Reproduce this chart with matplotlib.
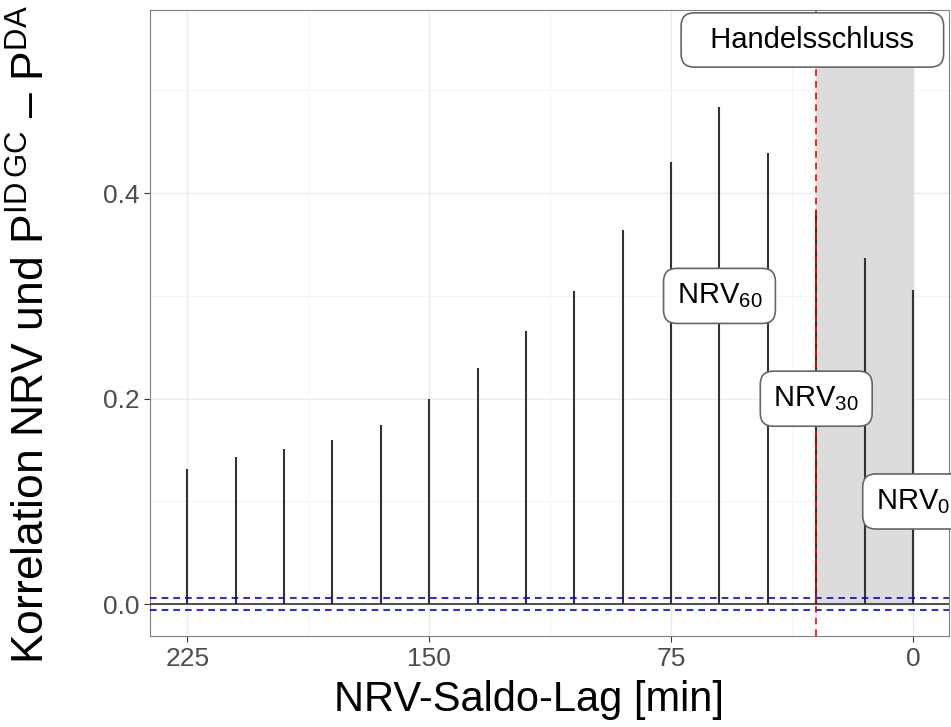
import matplotlib.pyplot as plt
import numpy as np

plt.rcParams['font.family'] = ['Liberation Sans', 'DejaVu Sans']
plt.rcParams['mathtext.fontset'] = 'custom'
plt.rcParams['mathtext.rm'] = 'Liberation Sans'
plt.rcParams['mathtext.it'] = 'Liberation Sans'

# lag in minutes and correlation values
lags = [225, 210, 195, 180, 165, 150, 135, 120, 105, 90, 75, 60, 45, 30, 15, 0]
corr = [0.132, 0.143, 0.151, 0.160, 0.174, 0.200, 0.230, 0.266, 0.305,
        0.364, 0.430, 0.484, 0.439, 0.383, 0.337, 0.306]
conf = 0.006

label_lags = [60, 30, 0]
label_y = [0.30, 0.20, 0.10]
label_txt = [r'NRV$_{60}$', r'NRV$_{30}$', r'NRV$_{0}$']

fig = plt.figure(figsize=(9.51, 7.27), dpi=100)
ax = fig.add_axes([0.158, 0.125, 0.84, 0.861])

# shaded area after gate closure
ax.fill_between([30, 0], 0, 0.525, color='#DCDCDC', zorder=1)

ax.vlines(lags, 0, corr, color='#333333', lw=1.5, zorder=3)
ax.axhline(0, color='#333333', lw=1.2, zorder=3)
ax.axhline(conf, color='blue', ls=(0, (4, 3)), lw=1.2, zorder=3)
ax.axhline(-conf, color='blue', ls=(0, (4, 3)), lw=1.2, zorder=3)
ax.axvline(30, color='red', ls=(0, (4, 3)), lw=1.2, zorder=4)

box = dict(boxstyle='round,pad=0.45,rounding_size=0.45', fc='white', ec='#666666', lw=1.2)
for x, y, t in zip(label_lags, label_y, label_txt):
    ax.text(x, y, t, fontsize=21, ha='center', va='center', bbox=box, zorder=5)
ax.text(31.2, 0.549, '  Handelsschluss  ', fontsize=21, ha='center', va='center',
        bbox=dict(boxstyle='round,pad=0.45,rounding_size=0.45', fc='white', ec='#666666', lw=1.2),
        zorder=5)

ax.set_xlim(236.5, -11.2)
ax.set_ylim(-0.031, 0.578)
ax.set_xticks([225, 150, 75, 0])
ax.set_xticks([187.5, 112.5, 37.5], minor=True)
ax.set_yticks([0.0, 0.2, 0.4])
ax.set_yticklabels(['0.0', '0.2', '0.4'])
ax.set_yticks([0.1, 0.3, 0.5], minor=True)
ax.grid(which='major', color='#EBEBEB', lw=1.0, zorder=0)
ax.grid(which='minor', color='#F3F3F3', lw=0.6, zorder=0)
ax.set_axisbelow(True)
ax.tick_params(which='major', labelsize=19, labelcolor='#4D4D4D', color='#333333', length=4)
ax.tick_params(which='minor', length=0)
for s in ax.spines.values():
    s.set_color('#7F7F7F')

ax.set_xlabel('NRV-Saldo-Lag [min]', fontsize=30)
ax.xaxis.set_label_coords(0.474, -0.070)
ax.set_ylabel(r'Korrelation NRV und P$^{\mathrm{ID\,GC}}$ – P$^{\mathrm{DA}}$', fontsize=32)
ax.yaxis.set_label_coords(-0.121, 0.481)

fig.savefig('out.png', dpi=100)
